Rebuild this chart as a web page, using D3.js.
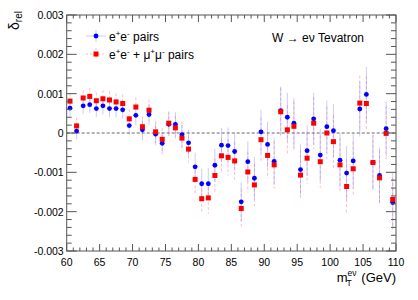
<!DOCTYPE html>
<html><head><meta charset="utf-8">
<script src="https://cdn.jsdelivr.net/npm/d3@7"></script>
<style>body{margin:0;background:#fff;}svg{display:block;font-family:"Liberation Sans",Arial,sans-serif;}</style>
</head><body><svg id="c" width="418" height="300"></svg>
<script>
const mass = [60.5,61.5,62.5,63.5,64.5,65.5,66.5,67.5,68.5,69.5,70.5,71.5,72.5,73.5,74.5,75.5,76.5,77.5,78.5,79.5,80.5,81.5,82.5,83.5,84.5,85.5,86.5,87.5,88.5,89.5,90.5,91.5,92.5,93.5,94.5,95.5,96.5,97.5,98.5,99.5,100.5,101.5,102.5,103.5,104.5,105.5,106.5,107.5,108.5,109.5];
const deltaEE = [0.00063,0.00005,0.00069,0.00072,0.00062,0.00069,0.00062,0.00062,0.00059,0.00019,0.00045,0.00008,0.00047,-0.00003,-0.00026,0.00022,0.00022,-0.00004,-0.00025,-0.00086,-0.00129,-0.00129,-0.00082,-0.00031,-0.00032,-0.00047,-0.00175,-0.00073,-0.00115,0.00003,-0.00029,-0.00072,0.00057,0.00040,0.00025,-0.00093,-0.00045,0.00036,-0.00056,0.00016,0.00006,-0.00069,-0.00102,-0.00071,0.00061,0.00098,-0.00075,-0.00108,0.00011,-0.00177];
const deltaEEMM = [0.00081,0.00018,0.00089,0.00093,0.00082,0.00087,0.00084,0.00079,0.00075,0.00036,0.00066,0.00016,0.00058,0.00003,-0.00016,0.00025,0.00013,-0.00013,-0.00041,-0.00118,-0.00167,-0.00165,-0.00108,-0.00058,-0.00062,-0.00071,-0.00192,-0.00099,-0.00132,-0.00017,-0.00057,-0.00081,0.00054,0.00008,0.00017,-0.00107,-0.00064,0.00025,-0.00073,0.00000,-0.00022,-0.00081,-0.00136,-0.00091,0.00076,0.00075,-0.00075,-0.00114,-0.00001,-0.00169];
const errEE = [0.00020,0.00021,0.00020,0.00021,0.00021,0.00022,0.00022,0.00022,0.00023,0.00024,0.00025,0.00026,0.00027,0.00028,0.00029,0.00030,0.00031,0.00033,0.00034,0.00036,0.00038,0.00040,0.00042,0.00044,0.00046,0.00048,0.00050,0.00052,0.00054,0.00056,0.00058,0.00060,0.00061,0.00062,0.00063,0.00064,0.00065,0.00066,0.00066,0.00067,0.00068,0.00068,0.00069,0.00069,0.00070,0.00070,0.00070,0.00070,0.00069,0.00068];
const errEEMM = [0.00020,0.00021,0.00020,0.00021,0.00021,0.00022,0.00022,0.00022,0.00023,0.00024,0.00025,0.00026,0.00027,0.00028,0.00029,0.00030,0.00031,0.00033,0.00034,0.00036,0.00038,0.00040,0.00042,0.00044,0.00046,0.00048,0.00050,0.00052,0.00054,0.00056,0.00058,0.00060,0.00061,0.00062,0.00063,0.00064,0.00065,0.00066,0.00066,0.00067,0.00068,0.00068,0.00069,0.00069,0.00070,0.00070,0.00070,0.00070,0.00069,0.00068];
const xTicks = [60,65,70,75,80,85,90,95,100,105,110];
const yTicks = [-0.003,-0.002,-0.001,0,0.001,0.002,0.003];
const yTickLabels = ["-0.003","-0.002","-0.001","0","0.001","0.002","0.003"];

const svg = d3.select("#c");
const L=66.7, R=396, T=15, B=251;
const x = d3.scaleLinear().domain([60,110]).range([L,R]);
const y = d3.scaleLinear().domain([-0.003,0.003]).range([B,T]);
const axisCol = "#555";

svg.append("line").attr("x1",x(60)).attr("x2",x(110)).attr("y1",y(0)).attr("y2",y(0))
  .attr("stroke","#666").attr("stroke-dasharray","3,2").attr("stroke-width",1);

const blueErr = "rgba(110,110,240,0.35)", redErr="rgba(240,90,130,0.4)";
svg.append("g").selectAll("line").data(mass).join("line")
  .attr("x1",d=>x(d)).attr("x2",d=>x(d))
  .attr("y1",(d,i)=>y(deltaEEMM[i]+errEEMM[i])).attr("y2",(d,i)=>y(deltaEEMM[i]-errEEMM[i]))
  .attr("stroke",redErr).attr("stroke-width",1).attr("stroke-dasharray","3,2");
svg.append("g").selectAll("line").data(mass).join("line")
  .attr("x1",d=>x(d)).attr("x2",d=>x(d))
  .attr("y1",(d,i)=>y(deltaEE[i]+errEE[i])).attr("y2",(d,i)=>y(deltaEE[i]-errEE[i]))
  .attr("stroke",blueErr).attr("stroke-width",1);
svg.append("g").selectAll("line").data(mass).join("line")
  .attr("x1",d=>x(d-0.4)).attr("x2",d=>x(d+0.4))
  .attr("y1",(d,i)=>y(deltaEE[i])).attr("y2",(d,i)=>y(deltaEE[i]))
  .attr("stroke",blueErr).attr("stroke-width",1);

svg.append("g").selectAll("circle").data(mass).join("circle")
  .attr("cx",d=>x(d)).attr("cy",(d,i)=>y(deltaEE[i])).attr("r",2.4).attr("fill","#0000ff");
svg.append("g").selectAll("rect").data(mass).join("rect")
  .attr("x",d=>x(d)-2.5).attr("y",(d,i)=>y(deltaEEMM[i])-2.5).attr("width",5).attr("height",5).attr("fill","#ff0000");

svg.append("rect").attr("x",L).attr("y",T).attr("width",R-L).attr("height",B-T)
  .attr("fill","none").attr("stroke",axisCol).attr("stroke-width",1);

const xMinor = d3.range(60,110.01,1);
const tg = svg.append("g").attr("stroke",axisCol).attr("stroke-width",1);
xMinor.forEach(v=>{
  const major = v%5===0; const len = major?7:3.5;
  tg.append("line").attr("x1",x(v)).attr("x2",x(v)).attr("y1",B).attr("y2",B-len);
  tg.append("line").attr("x1",x(v)).attr("x2",x(v)).attr("y1",T).attr("y2",T+len);
});
const yMinor = d3.range(-15,16,1).map(k=>k*0.0002);
yMinor.forEach((v,k)=>{
  const major = (k%5)===0; const len = major?10:5;
  tg.append("line").attr("x1",L).attr("x2",L+len).attr("y1",y(v)).attr("y2",y(v));
  tg.append("line").attr("x1",R).attr("x2",R-len).attr("y1",y(v)).attr("y2",y(v));
});

svg.append("g").selectAll("text").data(xTicks).join("text")
  .attr("x",d=>x(d)).attr("y",B+15).attr("text-anchor","middle").attr("font-size",10.5).attr("fill","#000").text(d=>d);
svg.append("g").selectAll("text").data(yTicks).join("text")
  .attr("x",L-3).attr("y",d=>y(d)+4).attr("text-anchor","end").attr("font-size",10.5).attr("fill","#000").text((d,i)=>yTickLabels[i]);

const xt = svg.append("text").attr("x",R).attr("y",282).attr("text-anchor","end").attr("font-size",13);
xt.append("tspan").text("m");
xt.append("tspan").attr("font-size",8.5).attr("dy",-6).text("eν");
xt.append("tspan").attr("font-size",8.5).attr("dx",-10).attr("dy",10).text("T");
xt.append("tspan").attr("dy",-4).attr("dx",6).text(" (GeV)");

const yt = svg.append("text").attr("transform","translate(19,11) rotate(-90)").attr("text-anchor","end").attr("font-size",14);
yt.append("tspan").text("δ");
yt.append("tspan").attr("font-size",10).attr("dy",3).text("rel");

const lg1 = svg.append("g").attr("transform","translate(96,36)");
lg1.append("line").attr("x1",-10).attr("x2",10).attr("stroke",blueErr);
lg1.append("line").attr("y1",-6).attr("y2",6).attr("stroke",blueErr);
lg1.append("circle").attr("r",2.4).attr("fill","#0000ff");
const t1 = lg1.append("text").attr("x",13).attr("y",5).attr("font-size",12);
t1.append("tspan").text("e");
t1.append("tspan").attr("font-size",8).attr("dy",-5).text("+");
t1.append("tspan").attr("dy",5).text("e");
t1.append("tspan").attr("font-size",8).attr("dy",-5).text("-");
t1.append("tspan").attr("dy",5).text(" pairs");

const lg2 = svg.append("g").attr("transform","translate(96,54)");
lg2.append("line").attr("x1",-10).attr("x2",10).attr("stroke",redErr).attr("stroke-dasharray","2,2");
lg2.append("line").attr("y1",-6).attr("y2",6).attr("stroke",redErr).attr("stroke-dasharray","2,2");
lg2.append("rect").attr("x",-2.5).attr("y",-2.5).attr("width",5).attr("height",5).attr("fill","#ff0000");
const t2 = lg2.append("text").attr("x",13).attr("y",5).attr("font-size",12);
t2.append("tspan").text("e");
t2.append("tspan").attr("font-size",8).attr("dy",-5).text("+");
t2.append("tspan").attr("dy",5).text("e");
t2.append("tspan").attr("font-size",8).attr("dy",-5).text("-");
t2.append("tspan").attr("dy",5).text(" + μ");
t2.append("tspan").attr("font-size",8).attr("dy",-5).text("+");
t2.append("tspan").attr("dy",5).text("μ");
t2.append("tspan").attr("font-size",8).attr("dy",-5).text("-");
t2.append("tspan").attr("dy",5).text(" pairs");

svg.append("text").attr("x",272).attr("y",42).attr("font-size",12).text("W → eν  Tevatron");
</script></body></html>
